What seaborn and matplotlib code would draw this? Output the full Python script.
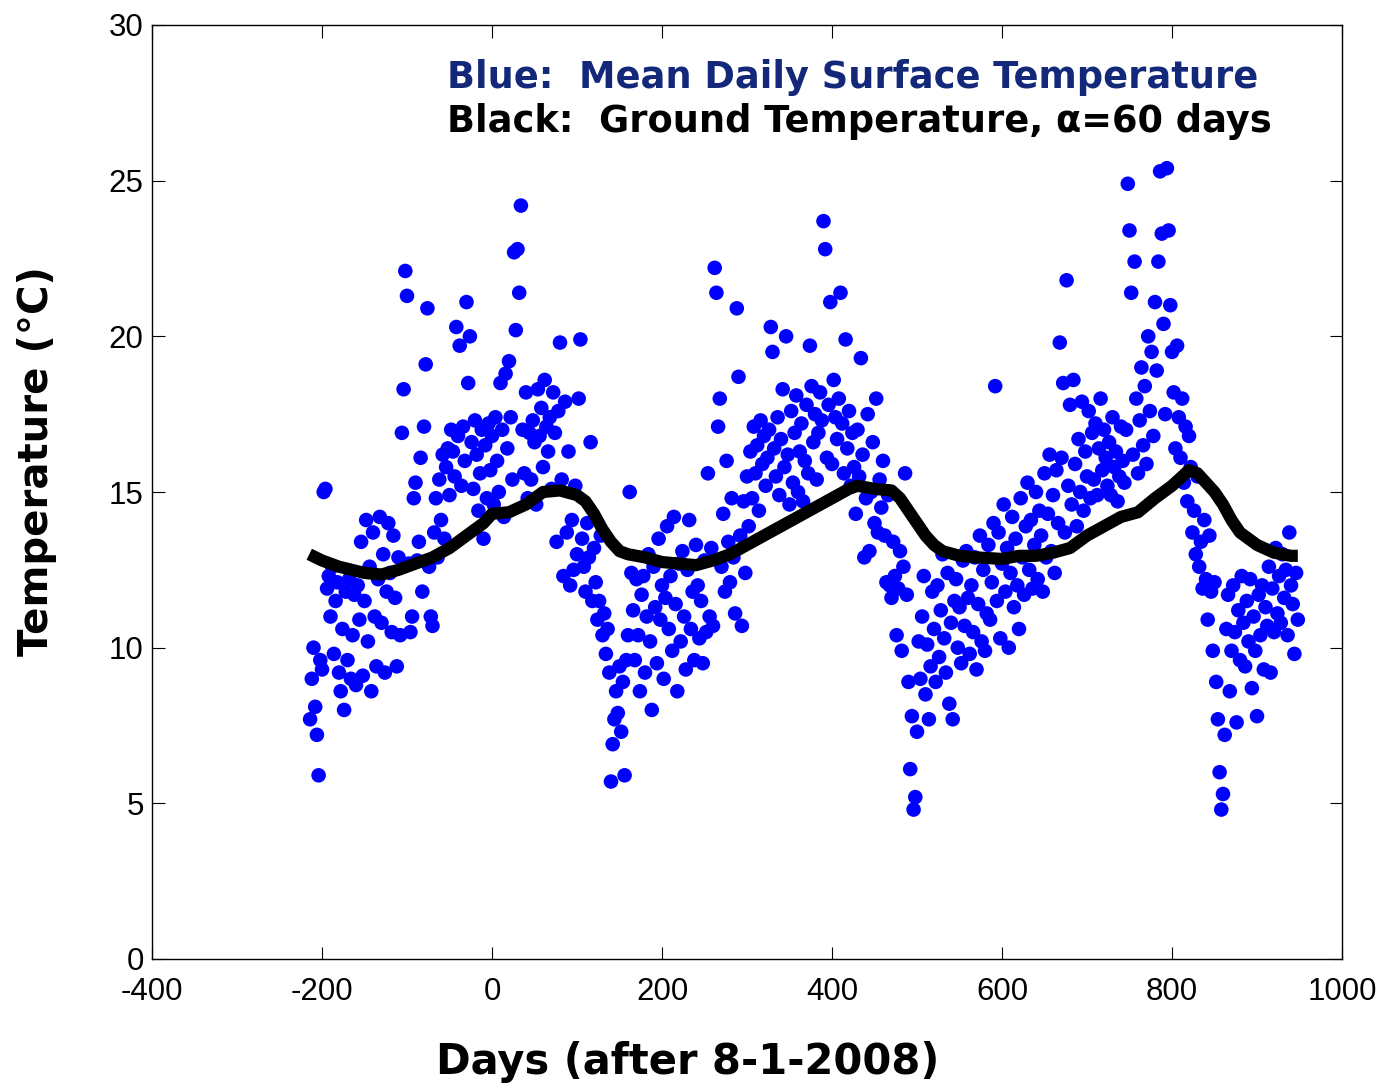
import numpy as np
import pandas as pd
import matplotlib
matplotlib.use("Agg")
import matplotlib.pyplot as plt
import seaborn as sns

# ---------------- data ----------------
# Mean daily surface temperature (every 2nd day), blocks of 20 days
surface_blocks = [
    [7.7, 9.0, 10.0, 8.1, 7.2, 5.9, 9.6, 9.3, 15.0, 15.1],          # -214
    [11.9, 12.3, 11.0, 12.6, 9.8, 11.5, 12.1, 9.2, 8.6, 10.6],      # -194
    [8.0, 11.8, 9.6, 12.2, 9.0, 10.4, 11.7, 8.8, 12.0, 10.9],       # -174
    [13.4, 9.1, 11.5, 14.1, 10.2, 12.6, 8.6, 13.7, 11.0, 9.4],      # -154
    [12.2, 14.2, 10.8, 13.0, 9.2, 11.8, 14.0, 12.4, 10.5, 13.6],    # -134
    [11.6, 9.4, 12.9, 10.4, 16.9, 18.3, 22.1, 21.3, 12.7, 10.5],    # -114
    [11.0, 14.8, 15.3, 12.8, 13.4, 16.1, 11.8, 17.1, 19.1, 20.9],   # -94
    [12.6, 11.0, 10.7, 13.7, 14.8, 12.9, 15.4, 14.1, 16.2, 13.5],   # -74
    [15.8, 16.4, 14.9, 17.0, 16.3, 15.5, 20.3, 16.8, 19.7, 15.2],   # -54
    [17.1, 16.0, 21.1, 18.5, 20.0, 16.6, 15.1, 17.3, 16.2, 14.4],   # -34
    [15.6, 17.0, 13.5, 16.5, 14.8, 17.2, 15.7, 16.8, 14.6, 17.4],   # -14
    [16.0, 15.0, 18.5, 17.0, 14.2, 18.8, 16.4, 19.2, 17.4, 15.4],   # 6
    [22.7, 20.2, 22.8, 21.4, 24.2, 17.0, 15.6, 18.2, 14.8, 16.9],   # 26
    [15.4, 17.3, 16.6, 14.6, 18.3, 16.8, 17.7, 15.8, 18.6, 17.1],   # 46
    [16.3, 17.4, 15.1, 18.2, 16.9, 13.4, 17.6, 19.8, 15.4, 12.3],   # 66
    [17.9, 13.7, 16.3, 12.0, 14.1, 12.5, 15.2, 13.0, 18.0, 19.9],   # 86
    [13.5, 12.6, 11.8, 14.0, 12.9, 16.6, 11.5, 13.2, 12.1, 10.9],   # 106
    [11.5, 13.6, 10.4, 11.1, 9.8, 10.6, 9.2, 5.7, 6.9, 7.7],        # 126
    [8.6, 7.9, 9.4, 7.3, 8.9, 5.9, 9.6, 10.4, 15.0, 12.4],          # 146
    [11.2, 9.6, 12.2, 10.4, 8.6, 11.7, 12.3, 9.2, 11.0, 13.0],      # 166
    [10.2, 8.0, 12.6, 11.3, 9.5, 13.5, 10.9, 12.0, 9.0, 11.6],      # 186
    [13.9, 10.6, 12.3, 9.9, 14.2, 11.4, 8.6, 12.7, 10.2, 13.1],     # 206
    [11.0, 9.3, 12.5, 14.1, 10.6, 11.8, 9.6, 13.3, 12.0, 10.3],     # 226
    [11.5, 9.5, 12.8, 10.5, 15.6, 11.0, 13.2, 10.7, 22.2, 21.4],    # 246
    [17.1, 18.0, 12.6, 14.3, 11.8, 16.0, 13.4, 12.1, 14.8, 12.9],   # 266
    [11.1, 20.9, 18.7, 13.6, 10.7, 14.7, 12.4, 15.5, 13.9, 16.3],   # 286
    [14.8, 17.1, 15.6, 16.5, 14.4, 17.3, 15.9, 16.8, 15.2, 16.1],   # 306
    [17.0, 20.3, 19.5, 16.4, 15.5, 17.4, 14.9, 16.7, 18.3, 15.8],   # 326
    [20.0, 16.2, 14.6, 17.6, 15.3, 16.9, 18.1, 15.0, 16.3, 17.2],   # 346
    [14.7, 16.0, 17.8, 15.6, 19.7, 18.4, 16.6, 17.5, 15.4, 16.9],   # 366
    [18.2, 17.3, 23.7, 22.8, 16.1, 17.8, 21.1, 15.9, 18.6, 17.4],   # 386
    [16.7, 18.0, 21.4, 17.2, 15.6, 19.9, 16.4, 17.6, 15.2, 16.9],   # 406
    [15.8, 14.3, 17.0, 15.5, 19.3, 16.2, 12.9, 14.8, 17.5, 13.1],   # 426
    [15.0, 16.6, 14.0, 18.0, 13.7, 15.4, 14.5, 16.0, 13.6, 12.1],   # 446
    [14.9, 12.0, 11.6, 13.4, 12.3, 10.4, 11.9, 13.1, 9.9, 12.6],    # 466
    [15.6, 11.7, 8.9, 6.1, 7.8, 4.8, 5.2, 7.3, 10.2, 9.0],          # 486
    [11.0, 12.3, 8.5, 10.1, 7.7, 9.4, 11.8, 10.6, 8.9, 12.0],       # 506
    [9.7, 11.2, 13.0, 10.3, 9.2, 12.4, 8.2, 10.8, 7.7, 11.5],       # 526
    [12.2, 10.0, 11.3, 9.5, 12.8, 10.7, 13.1, 11.6, 9.8, 12.0],     # 546
    [10.5, 12.9, 9.3, 11.4, 13.6, 10.2, 12.5, 9.9, 11.1, 13.3],     # 566
    [10.9, 12.1, 14.0, 18.4, 11.5, 13.7, 10.3, 12.7, 14.6, 11.8],   # 586
    [13.2, 10.0, 12.4, 14.2, 11.3, 13.5, 12.0, 10.6, 14.8, 12.9],   # 606
    [11.7, 13.9, 15.3, 12.5, 14.1, 11.9, 13.3, 15.0, 12.2, 14.4],   # 626
    [13.6, 11.8, 15.6, 12.9, 14.3, 16.2, 13.1, 14.9, 12.4, 15.7],   # 646
    [14.0, 19.8, 16.1, 18.5, 13.7, 21.8, 15.2, 17.8, 14.6, 18.6],   # 666
    [15.9, 13.9, 16.7, 15.0, 17.9, 14.4, 16.3, 15.5, 17.6, 14.8],   # 686
    [16.9, 15.4, 17.2, 14.9, 16.4, 18.0, 15.7, 17.0, 16.1, 15.2],   # 706
    [16.6, 14.9, 17.4, 15.8, 16.3, 14.7, 15.5, 17.1, 16.0, 15.3],   # 726
    [17.0, 24.9, 23.4, 21.4, 16.2, 22.4, 18.0, 15.6, 17.3, 19.0],   # 746
    [16.5, 18.4, 15.9, 20.0, 17.6, 19.5, 16.8, 21.1, 18.9, 22.4],   # 766
    [25.3, 23.3, 20.4, 17.5, 25.4, 23.4, 21.0, 19.5, 18.2, 16.4],   # 786
    [19.7, 17.4, 16.1, 18.0, 15.3, 17.1, 14.7, 16.8, 15.8, 13.7],   # 806
    [14.4, 13.0, 15.5, 12.6, 13.4, 11.9, 14.1, 12.2, 10.9, 13.6],   # 826
    [11.8, 9.9, 12.1, 8.9, 7.7, 6.0, 4.8, 5.3, 7.2, 10.6],          # 846
    [11.7, 8.6, 9.9, 12.0, 10.5, 7.6, 11.2, 9.6, 12.3, 10.8],       # 866
    [9.4, 11.5, 10.2, 12.2, 8.7, 11.0, 9.9, 7.8, 11.7, 10.4],       # 886
    [12.0, 9.3, 11.3, 10.7, 12.6, 9.2, 11.9, 10.5, 13.2, 11.1],     # 906
    [12.3, 10.8, 13.0, 11.6, 12.5, 10.4, 13.7, 12.0, 11.4, 9.8],    # 926
    [12.4, 10.9],                                                   # 946
]
surface_temp = [v for block in surface_blocks for v in block]
surface_days = list(range(-214, 950, 2))

# Ground temperature (alpha = 60 days)
ground_days = [-215, -200, -180, -150, -130, -110, -90, -70, -50, -30, -10, 0, 20, 40,
               60, 80, 100, 110, 120, 130, 140, 150, 160, 180, 200, 220, 240, 260, 280,
               300, 320, 340, 360, 380, 400, 420, 430, 450, 470, 480, 490, 500, 510,
               520, 530, 550, 570, 600, 620, 640, 660, 680, 700, 720, 740, 760, 780,
               800, 820, 830, 840, 850, 860, 870, 880, 900, 920, 940, 948]
ground_temp = [13.0, 12.8, 12.6, 12.4, 12.35, 12.5, 12.7, 12.9, 13.2, 13.6, 14.0, 14.3,
               14.35, 14.6, 15.0, 15.05, 14.9, 14.7, 14.3, 13.8, 13.4, 13.1, 13.0, 12.9,
               12.75, 12.7, 12.65, 12.8, 13.0, 13.3, 13.6, 13.9, 14.2, 14.5, 14.8, 15.1,
               15.2, 15.1, 15.05, 14.8, 14.4, 14.0, 13.6, 13.3, 13.1, 12.95, 12.9, 12.85,
               12.95, 12.95, 13.05, 13.2, 13.6, 13.9, 14.2, 14.35, 14.8, 15.2, 15.7, 15.6,
               15.3, 15.0, 14.6, 14.1, 13.7, 13.3, 13.05, 12.95, 12.95]

x_ticks = [-400, -200, 0, 200, 400, 600, 800, 1000]
y_ticks = [0, 5, 10, 15, 20, 25, 30]

surface_df = pd.DataFrame({"day": surface_days, "temp": surface_temp})
ground_df = pd.DataFrame({"day": ground_days, "temp": ground_temp})

# ---------------- plot ----------------
sns.set_theme(style="ticks", rc={
    "xtick.direction": "in", "ytick.direction": "in",
    "xtick.top": True, "ytick.right": True,
    "text.color": "black", "axes.labelcolor": "black",
    "xtick.color": "black", "ytick.color": "black",
})
plt.rcParams["font.family"] = ["Liberation Sans", "DejaVu Sans"]

fig = plt.figure(figsize=(13.87, 10.88), dpi=100)
ax = fig.add_axes([152 / 1387, 1 - 959 / 1088, 1190 / 1387, 934 / 1088])

sns.scatterplot(data=surface_df, x="day", y="temp", ax=ax, color="#0000FF",
                s=110, linewidth=0, edgecolor="none", alpha=1.0, zorder=2)
sns.lineplot(data=ground_df, x="day", y="temp", ax=ax, color="black",
             linewidth=8.8, zorder=3, solid_capstyle="butt", solid_joinstyle="round")

ax.set_xlim(-400, 1000)
ax.set_ylim(0, 30)
ax.set_xticks(x_ticks)
ax.set_yticks(y_ticks)
ax.set_xticklabels([str(t) for t in x_ticks])
ax.set_yticklabels([str(t) for t in y_ticks])
ax.tick_params(axis="both", which="major", length=9, width=0.8, color="black",
               labelsize=22.5, labelcolor="black")
ax.tick_params(axis="x", pad=13)
ax.tick_params(axis="y", pad=6)
for sp in ax.spines.values():
    sp.set_visible(True)
    sp.set_linewidth(1.0)
    sp.set_color("black")

ax.set_xlabel("Days (after 8-1-2008)", fontsize=30, fontweight="bold",
              family="DejaVu Sans", color="black")
ax.set_ylabel("Temperature (\u00b0C)", fontsize=29, fontweight="bold",
              family="DejaVu Sans", color="black")
ax.xaxis.set_label_coords(0.450, -0.088)
ax.yaxis.set_label_coords(-0.080, 0.533)

ax.text(0.248, 0.9326, "Blue:  Mean Daily Surface Temperature", transform=ax.transAxes,
        fontsize=26.5, fontweight="bold", color="#14287a", family="DejaVu Sans",
        ha="left", va="baseline")
ax.text(0.248, 0.8854, "Black:  Ground Temperature, \u03b1=60 days", transform=ax.transAxes,
        fontsize=26.5, fontweight="bold", color="black", family="DejaVu Sans",
        ha="left", va="baseline")

fig.savefig("out.png", dpi=100, facecolor="white")
